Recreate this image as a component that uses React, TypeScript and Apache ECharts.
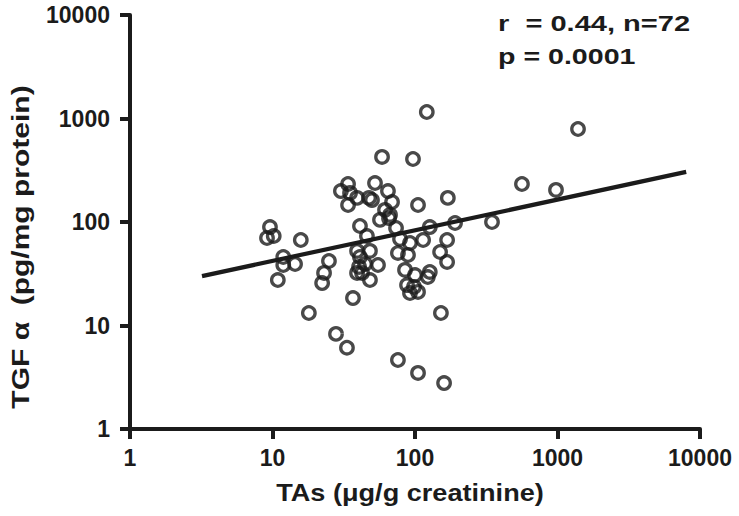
import React, { useEffect, useRef } from "react";
import * as echarts from "echarts";

// TAs (µg/g creatinine) values
const tasValues: number[] = [
  9.6, 9.15, 10.2, 15.8, 11.9, 11.9, 14.4, 10.9, 18.0, 24.9, 23.0, 22.3,
  27.9, 33.3, 30.2, 33.9, 35.0, 33.9, 39.2, 47.6, 52.4, 49.9, 36.7, 41.1,
  46.0, 39.2, 41.1, 44.6, 40.5, 48.3, 55.0, 48.3, 58.7, 64.6, 69.0, 61.6,
  56.8, 66.8, 73.6, 78.5, 75.9, 89.3, 85.1, 100, 87.9, 92.2, 105, 96.8,
  105, 121, 127, 114, 127, 123, 75.9, 105, 160, 152, 150, 168,
  168, 170, 191, 347, 563, 976, 1393, 92.2, 42.5, 98.4, 65.7, 39.2,
];

// TGF alpha (pg/mg protein) values
const tgfValues: number[] = [
  89.4, 70.0, 73.2, 67.0, 45.9, 38.4, 39.3, 27.5, 13.2, 42.0, 32.2, 25.7,
  8.3, 6.1, 199, 233, 191, 146, 171, 171, 238, 163, 18.4, 91.5,
  73.2, 52.5, 45.9, 39.3, 36.8, 52.5, 38.4, 27.5, 425, 199, 156, 131,
  105, 117, 87.5, 68.5, 50.2, 48.0, 34.4, 30.7, 24.6, 20.6, 21.1, 406,
  146, 1156, 89.4, 67.0, 32.9, 29.4, 4.64, 3.48, 2.78, 13.2, 51.3, 67.0,
  41.1, 171, 97.8, 100, 233, 204, 792, 62.7, 32.2, 23.6, 109, 32.2,
];

// Regression line end points
const fitX: number[] = [3.2, 8000];
const fitY: number[] = [30, 305];

const tickLabels: string[] = ["1", "10", "100", "1000", "10000"];

const xTitle = "TAs (\u03bcg/g creatinine)";
const yTitle = "TGF \u03b1  (pg/mg protein)";
const statLine1 = "r  = 0.44, n=72";
const statLine2 = "p = 0.0001";

const INK = "#1b1b1b";
const FONT = "'Liberation Sans', Arial, sans-serif";

export default function App() {
  const ref = useRef<HTMLDivElement>(null);

  useEffect(() => {
    document.body.style.margin = "0";
    if (!ref.current) return;
    const chart = echarts.init(ref.current, null, { renderer: "svg" });

    const points = tasValues.map((x, i) => [x, tgfValues[i]]);
    const fit = fitX.map((x, i) => [x, fitY[i]]);

    const labelFmt = (v: number) => {
      const idx = Math.round(Math.log10(v));
      return tickLabels[idx] !== undefined ? tickLabels[idx] : String(v);
    };

    const axisCommon = {
      type: "log" as const,
      logBase: 10,
      min: 1,
      max: 10000,
      axisLine: { show: true, lineStyle: { color: INK, width: 4 } },
      axisTick: { show: true, length: 10, lineStyle: { color: INK, width: 4 } },
      splitLine: { show: false },
      minorTick: { show: false },
      axisLabel: {
        color: INK,
        fontSize: 23,
        fontWeight: "bold" as const,
        fontFamily: FONT,
        formatter: labelFmt,
      },
    };

    chart.setOption({
      animation: false,
      backgroundColor: "#ffffff",
      grid: { left: 130, right: 39, top: 15, bottom: 87, containLabel: false },
      xAxis: {
        ...axisCommon,
        axisLabel: { ...axisCommon.axisLabel, margin: 17 },
      },
      yAxis: {
        ...axisCommon,
        axisLabel: { ...axisCommon.axisLabel, margin: 20 },
      },
      series: [
        {
          type: "scatter",
          data: points,
          symbol: "circle",
          symbolSize: 12.5,
          itemStyle: { color: "transparent", borderColor: INK, borderWidth: 3.3 },
          z: 3,
        },
        {
          type: "line",
          data: fit,
          symbol: "none",
          lineStyle: { color: INK, width: 4.2 },
          z: 2,
        },
      ],
      graphic: [
        {
          type: "text",
          x: 410,
          y: 493,
          scaleX: 1.13,
          style: {
            text: xTitle,
            font: `bold 24px ${FONT}`,
            fill: INK,
            textAlign: "center",
            textVerticalAlign: "middle",
          },
        },
        {
          type: "text",
          x: 21,
          y: 247,
          rotation: Math.PI / 2,
          scaleX: 1.25,
          style: {
            text: yTitle,
            font: `bold 24px ${FONT}`,
            fill: INK,
            textAlign: "center",
            textVerticalAlign: "middle",
          },
        },
        {
          type: "text",
          x: 498,
          y: 23,
          scaleX: 1.32,
          style: {
            text: statLine1,
            font: `bold 22px ${FONT}`,
            fill: INK,
            textAlign: "left",
            textVerticalAlign: "middle",
          },
        },
        {
          type: "text",
          x: 498,
          y: 56,
          scaleX: 1.3,
          style: {
            text: statLine2,
            font: `bold 22px ${FONT}`,
            fill: INK,
            textAlign: "left",
            textVerticalAlign: "middle",
          },
        },
      ],
    });

    return () => chart.dispose();
  }, []);

  return <div ref={ref} style={{ width: 739, height: 516 }} />;
}
